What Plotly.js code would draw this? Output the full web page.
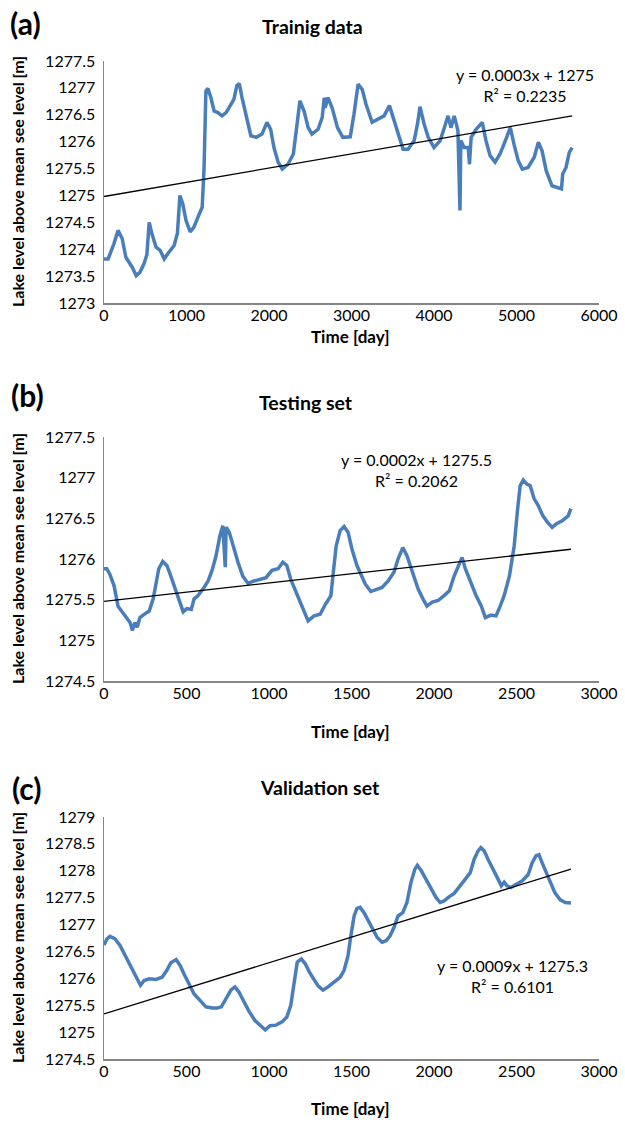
<!DOCTYPE html>
<html>
<head>
<meta charset="utf-8">
<script src="https://cdn.plot.ly/plotly-3.0.1.min.js"></script>
<style>html,body{margin:0;padding:0;background:#fff;}#chart{width:625px;height:1122px;}</style>
</head>
<body>
<div id="chart"></div>
<script>
// ---------- data ----------
const trainX = [0,50,120,170,220,265,340,390,435,485,520,548,580,630,680,730,775,850,890,920,955,995,1045,1090,1140,1190,1213,1235,1260,1295,1335,1380,1430,1480,1530,1575,1610,1640,1673,1720,1780,1845,1915,1975,2020,2060,2110,2160,2230,2295,2345,2375,2425,2475,2520,2595,2645,2670,2680,2715,2765,2830,2895,2985,3030,3080,3130,3175,3250,3320,3395,3460,3505,3565,3625,3685,3760,3800,3830,3880,3930,4000,4075,4125,4170,4205,4245,4270,4290,4315,4325,4365,4415,4430,4450,4510,4585,4630,4680,4740,4800,4865,4925,4970,5020,5070,5140,5215,5265,5310,5360,5430,5505,5545,5560,5600,5640,5675];
const trainY = [1273.82,1273.82,1274.1,1274.35,1274.2,1273.85,1273.67,1273.51,1273.57,1273.73,1273.9,1274.5,1274.29,1274.04,1273.98,1273.82,1273.92,1274.07,1274.3,1275.0,1274.84,1274.53,1274.32,1274.41,1274.6,1274.78,1275.52,1276.94,1276.99,1276.82,1276.57,1276.54,1276.48,1276.54,1276.67,1276.79,1277.04,1277.08,1276.82,1276.51,1276.11,1276.08,1276.14,1276.36,1276.23,1275.89,1275.62,1275.49,1275.58,1275.77,1276.39,1276.76,1276.57,1276.26,1276.14,1276.23,1276.45,1276.82,1276.63,1276.82,1276.63,1276.26,1276.08,1276.09,1276.51,1277.07,1276.97,1276.7,1276.36,1276.42,1276.48,1276.67,1276.45,1276.14,1275.86,1275.86,1276.02,1276.33,1276.65,1276.33,1276.08,1275.89,1276.02,1276.26,1276.48,1276.26,1276.48,1276.33,1276.2,1274.72,1276.02,1275.89,1275.89,1275.58,1276.08,1276.23,1276.36,1276.02,1275.74,1275.62,1275.77,1276.02,1276.26,1275.95,1275.65,1275.49,1275.52,1275.71,1275.99,1275.83,1275.46,1275.18,1275.15,1275.12,1275.4,1275.52,1275.8,1275.89];
const trainTrendX = [0,5675];
const trainTrendY = [1274.98,1276.48];

const testX = [0,17,36,61,85,114,138,158,172,187,201,218,243,274,298,315,332,356,381,405,437,461,480,502,529,546,570,606,631,655,679,703,720,735,740,759,788,812,841,873,909,946,982,1018,1055,1084,1108,1132,1164,1196,1220,1237,1273,1310,1341,1375,1390,1407,1431,1455,1479,1503,1533,1559,1584,1617,1649,1685,1722,1758,1782,1811,1836,1867,1904,1933,1957,1989,2025,2061,2093,2122,2146,2170,2190,2219,2255,2287,2311,2345,2376,2401,2425,2457,2486,2505,2522,2541,2563,2583,2607,2631,2660,2692,2716,2740,2777,2813,2830];
const testY = [1275.88,1275.88,1275.81,1275.67,1275.42,1275.34,1275.27,1275.22,1275.12,1275.22,1275.16,1275.28,1275.32,1275.36,1275.51,1275.71,1275.88,1275.97,1275.92,1275.79,1275.59,1275.44,1275.35,1275.39,1275.38,1275.51,1275.55,1275.65,1275.73,1275.86,1276.04,1276.29,1276.41,1275.9,1276.39,1276.33,1276.12,1275.96,1275.79,1275.7,1275.73,1275.75,1275.77,1275.86,1275.88,1275.96,1275.92,1275.75,1275.59,1275.42,1275.32,1275.24,1275.3,1275.32,1275.44,1275.55,1275.84,1276.16,1276.35,1276.4,1276.33,1276.12,1275.92,1275.79,1275.69,1275.6,1275.62,1275.65,1275.73,1275.84,1276.0,1276.14,1276.04,1275.84,1275.63,1275.51,1275.42,1275.47,1275.49,1275.55,1275.61,1275.79,1275.9,1276.02,1275.88,1275.73,1275.55,1275.42,1275.28,1275.31,1275.3,1275.42,1275.55,1275.79,1276.16,1276.58,1276.9,1276.97,1276.92,1276.9,1276.74,1276.66,1276.53,1276.44,1276.39,1276.43,1276.47,1276.53,1276.62];
const testTrendX = [0,2830];
const testTrendY = [1275.48,1276.12];

const validX = [0,17,36,65,97,129,158,182,201,221,243,274,315,352,381,405,437,461,485,517,546,582,618,655,686,711,740,769,793,817,849,880,914,946,977,1006,1043,1079,1108,1132,1152,1171,1196,1220,1244,1273,1297,1327,1358,1394,1431,1455,1479,1496,1516,1533,1552,1576,1601,1625,1656,1685,1710,1734,1758,1782,1811,1836,1860,1884,1899,1923,1952,1981,2013,2037,2061,2093,2122,2158,2190,2219,2243,2267,2284,2304,2328,2360,2389,2408,2425,2442,2466,2498,2534,2571,2595,2619,2636,2655,2680,2704,2733,2765,2796,2830];
const validY = [1276.62,1276.73,1276.78,1276.74,1276.61,1276.42,1276.24,1276.12,1275.99,1275.87,1275.96,1275.99,1275.98,1276.02,1276.15,1276.29,1276.35,1276.24,1276.08,1275.87,1275.71,1275.59,1275.47,1275.45,1275.45,1275.47,1275.62,1275.78,1275.84,1275.75,1275.56,1275.38,1275.22,1275.12,1275.04,1275.12,1275.13,1275.19,1275.28,1275.5,1275.93,1276.3,1276.36,1276.27,1276.12,1275.96,1275.86,1275.78,1275.84,1275.93,1276.02,1276.15,1276.42,1276.79,1277.16,1277.3,1277.32,1277.22,1277.07,1276.92,1276.76,1276.67,1276.7,1276.79,1276.95,1277.16,1277.22,1277.41,1277.78,1278.03,1278.1,1278.0,1277.84,1277.67,1277.5,1277.41,1277.44,1277.52,1277.58,1277.72,1277.84,1277.96,1278.21,1278.37,1278.43,1278.37,1278.21,1278.03,1277.84,1277.72,1277.79,1277.72,1277.69,1277.75,1277.81,1277.93,1278.15,1278.28,1278.3,1278.15,1277.96,1277.78,1277.59,1277.46,1277.41,1277.4];
const validTrendX = [0,2830];
const validTrendY = [1275.34,1278.03];

const panelLabels = ['(a)','(b)','(c)'];
const panelTitles = ['Trainig data','Testing set','Validation set'];
const eqTexts = ['y = 0.0003x + 1275<br>R² = 0.2235','y = 0.0002x + 1275.5<br>R² = 0.2062','y = 0.0009x + 1275.3<br>R² = 0.6101'];
const xTitle = 'Time [day]';
const yTitle = 'Lake level above mean see level [m]';

// ---------- layout helpers ----------
const W = 625, H = 1122;
const px = x => x / W;
const py = y => 1 - y / H;
const FONT = 'Lato, Calibri, "Open Sans", sans-serif';
const BLUE = '#4A7EBB';

const traces = [
  {x: trainX, y: trainY, xaxis:'x', yaxis:'y', mode:'lines', line:{color:BLUE, width:3.5}},
  {x: trainTrendX, y: trainTrendY, xaxis:'x', yaxis:'y', mode:'lines', line:{color:'#000', width:1.3}},
  {x: testX, y: testY, xaxis:'x2', yaxis:'y2', mode:'lines', line:{color:BLUE, width:3.5}},
  {x: testTrendX, y: testTrendY, xaxis:'x2', yaxis:'y2', mode:'lines', line:{color:'#000', width:1.3}},
  {x: validX, y: validY, xaxis:'x3', yaxis:'y3', mode:'lines', line:{color:BLUE, width:3.5}},
  {x: validTrendX, y: validTrendY, xaxis:'x3', yaxis:'y3', mode:'lines', line:{color:'#000', width:1.3}}
];

const axBase = {showgrid:false, zeroline:false, showline:true, linecolor:'#868686', linewidth:1.5, ticks:'', tickfont:{family:FONT, size:16, color:'#000'}, fixedrange:true};

// panel pixel geometry: [top, bottom]
const panels = [[61,303],[437,681],[817,1059]];
const xDom = [px(104), px(599)];

function xa(range, dtick, anchor){ return Object.assign({}, axBase, {range:range, dtick:dtick, tick0:0, domain:xDom, anchor:anchor, tickformat:'d', ticklabelstandoff:-3}); }
function ya(range, dtick, p, anchor){ return Object.assign({}, axBase, {range:range, dtick:dtick, tick0:0, domain:[py(p[1]), py(p[0])], anchor:anchor, tickformat:'~f', ticklabelstandoff:4}); }

const layout = {
  width: W, height: H,
  margin:{l:0,r:0,t:0,b:0},
  paper_bgcolor:'#fff', plot_bgcolor:'#fff',
  showlegend:false,
  font:{family:FONT, color:'#000'},
  xaxis: xa([0,6000],1000,'y'),
  yaxis: ya([1273,1277.5],0.5,panels[0],'x'),
  xaxis2: xa([0,3000],500,'y2'),
  yaxis2: ya([1274.5,1277.5],0.5,panels[1],'x2'),
  xaxis3: xa([0,3000],500,'y3'),
  yaxis3: ya([1274.5,1279],0.5,panels[2],'x3'),
  annotations: []
};

const labelPos = [[25,23],[27,395],[27,788]];
const titlePos = [[312,26],[306,402],[320,787]];
const eqPos = [[525,85],[416,470],[512,976]];
const xTitlePos = [337,731,1108];

for (let i = 0; i < 3; i++) {
  layout.annotations.push({xref:'paper', yref:'paper', x:px(labelPos[i][0]), y:py(labelPos[i][1]), text:'<b>'+panelLabels[i]+'</b>', showarrow:false, xanchor:'center', yanchor:'middle', font:{family:FONT, size:30, color:'#000'}});
  layout.annotations.push({xref:'paper', yref:'paper', x:px(titlePos[i][0]), y:py(titlePos[i][1]), text:'<b>'+panelTitles[i]+'</b>', showarrow:false, xanchor:'center', yanchor:'middle', font:{family:FONT, size:19.5, color:'#000'}});
  layout.annotations.push({xref:'paper', yref:'paper', x:px(eqPos[i][0]), y:py(eqPos[i][1]), text:eqTexts[i], showarrow:false, xanchor:'center', yanchor:'middle', align:'center', font:{family:FONT, size:16, color:'#000'}});
  layout.annotations.push({xref:'paper', yref:'paper', x:px(350), y:py(xTitlePos[i]), text:'<b>'+xTitle+'</b>', showarrow:false, xanchor:'center', yanchor:'middle', font:{family:FONT, size:17, color:'#000'}});
  layout.annotations.push({xref:'paper', yref:'paper', x:px(17), y:py((panels[i][0]+panels[i][1])/2), text:'<b>'+yTitle+'</b>', textangle:-90, showarrow:false, xanchor:'center', yanchor:'middle', font:{family:FONT, size:16, color:'#000'}});
}

Plotly.newPlot('chart', traces, layout, {displayModeBar:false, staticPlot:true});
</script>
</body>
</html>
